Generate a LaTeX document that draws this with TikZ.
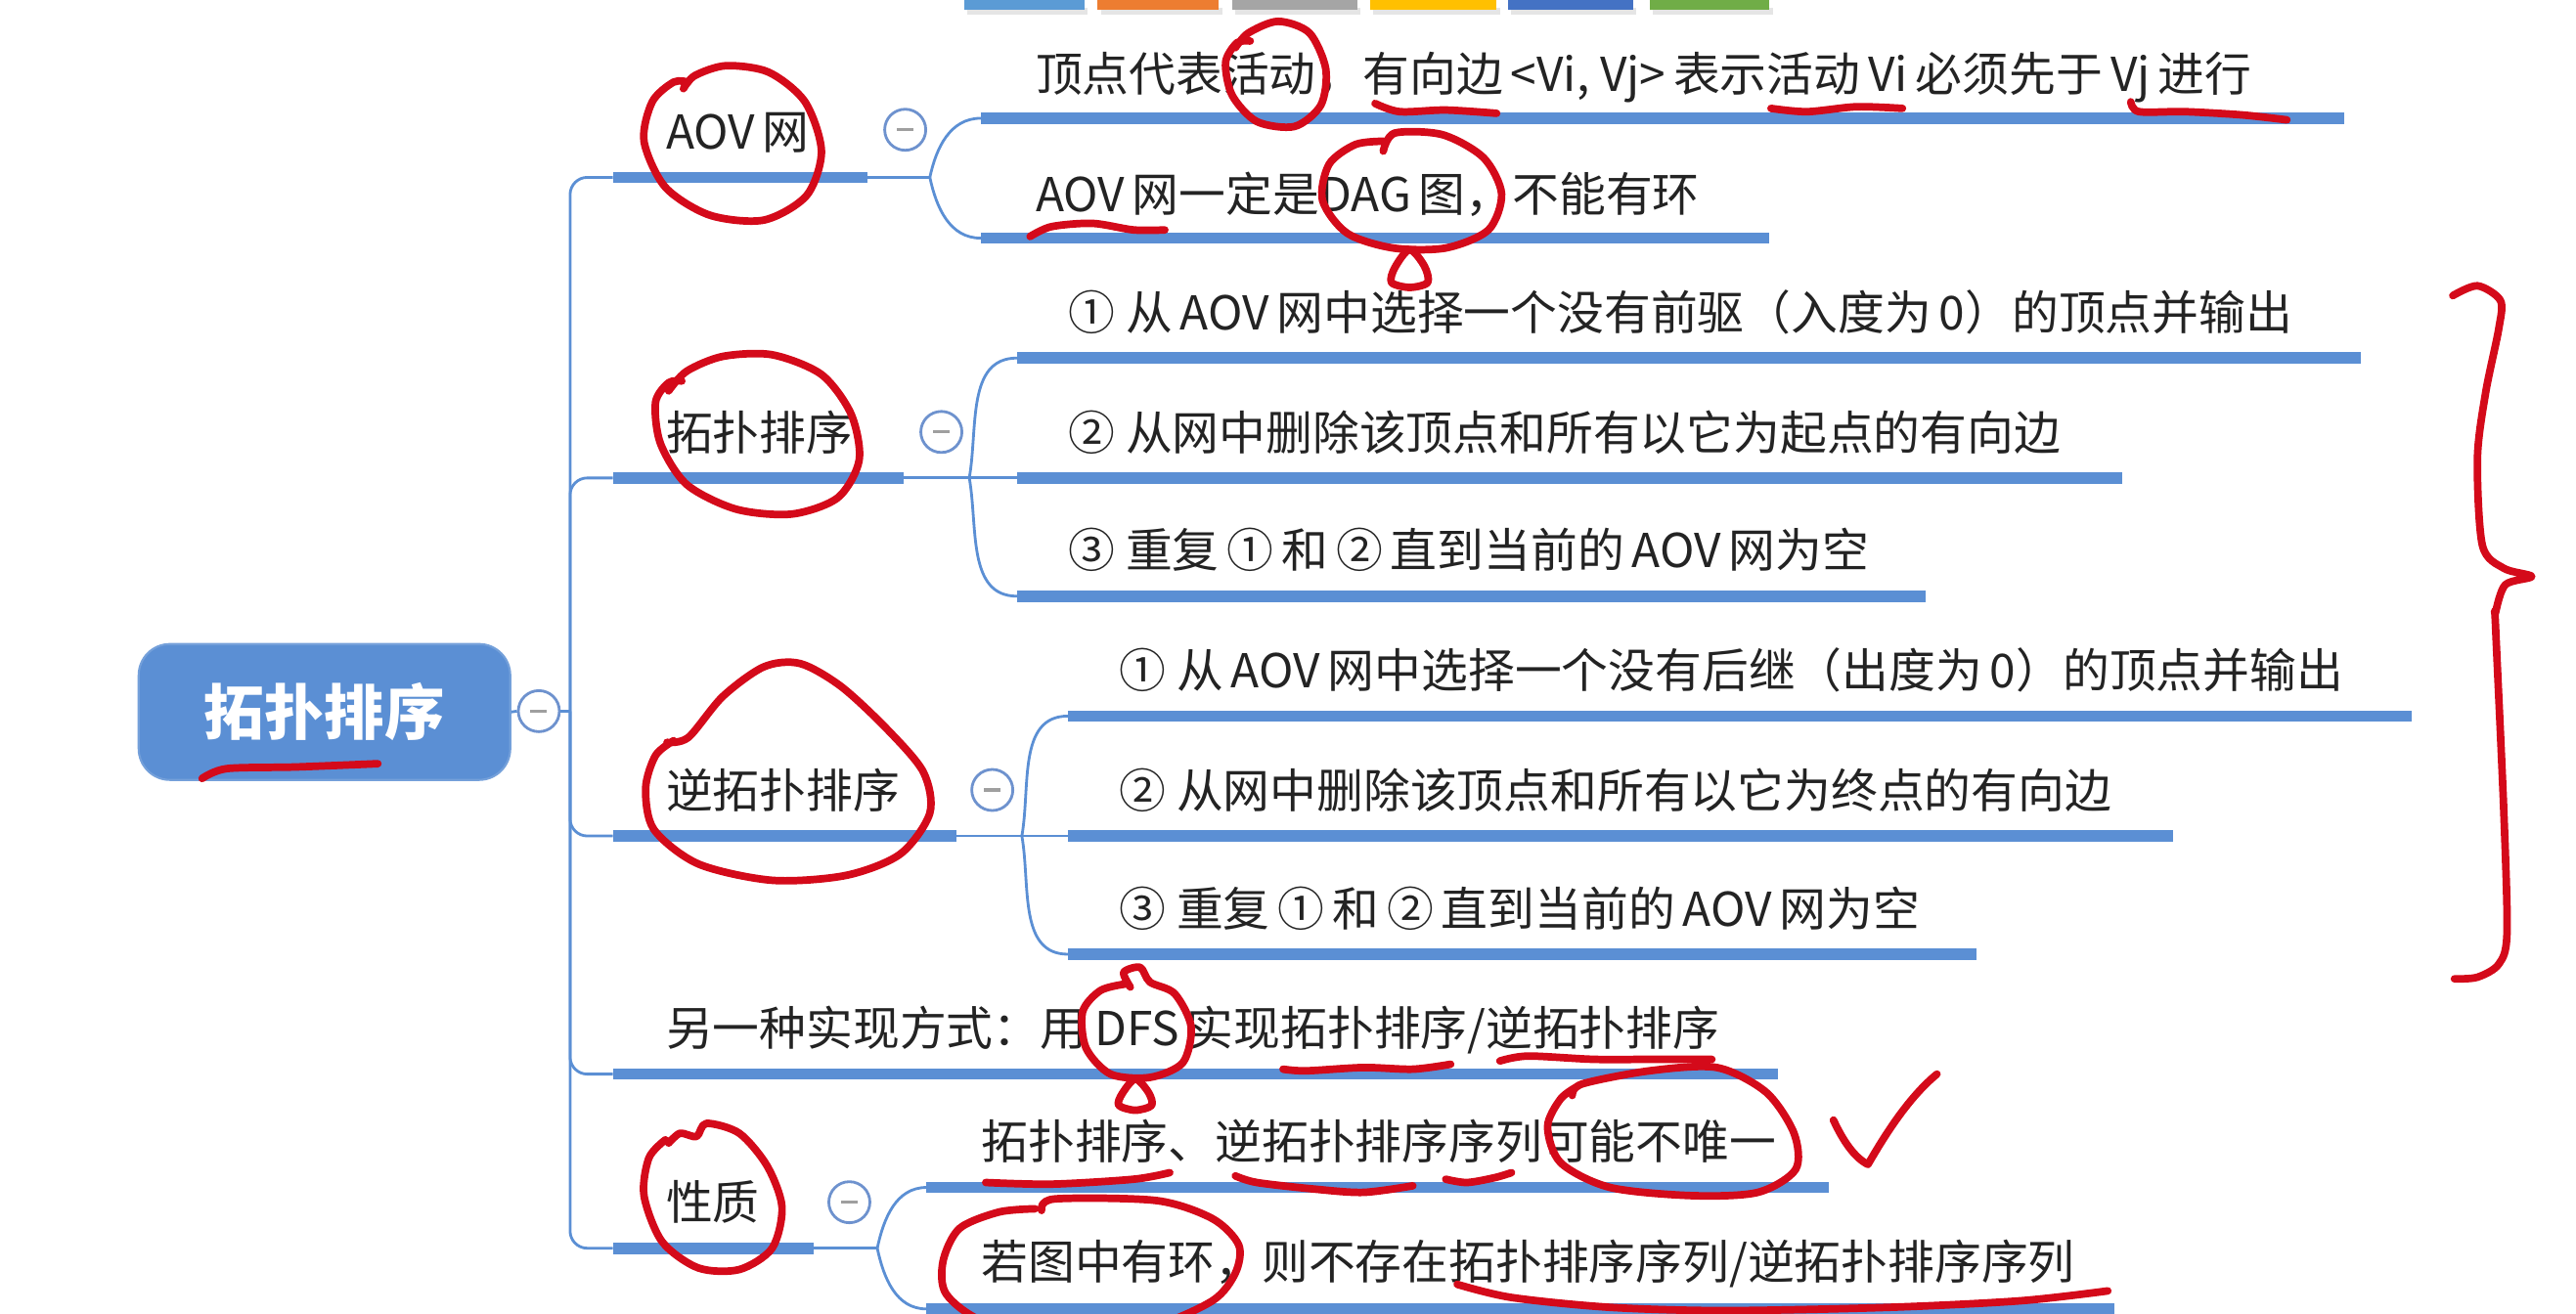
\documentclass[tikz,border=0pt]{standalone}
\usepackage{fontspec}
\setmainfont{Noto Sans CJK SC}
\usetikzlibrary{calc}
\definecolor{mmblue}{RGB}{91,143,212}
\definecolor{foldblue}{RGB}{110,146,206}
\definecolor{ink}{RGB}{212,10,26}
\definecolor{txt}{RGB}{35,35,35}
\definecolor{tabA}{RGB}{91,155,213}
\definecolor{tabB}{RGB}{237,125,49}
\definecolor{tabC}{RGB}{165,165,165}
\definecolor{tabD}{RGB}{255,192,0}
\definecolor{tabE}{RGB}{68,114,196}
\definecolor{tabF}{RGB}{112,173,71}
\tikzset{
  topic/.style={anchor=west, inner sep=0pt, text height=0.421cm, text depth=0.057cm,
    font=\fontsize{13.6}{16}\selectfont, text=txt},
  rootbox/.style={fill=mmblue, draw=mmblue!85!white, line width=0.6pt, rounded corners=0.32cm,
    minimum width=3.80cm, minimum height=1.39cm, inner sep=0pt,
    font=\fontsize{17.5}{20}\selectfont\bfseries, text=white},
  bar/.style={draw=mmblue, line width=3.3pt},
  link/.style={draw=mmblue, line width=0.8pt},
  fold/.style={circle, draw=foldblue, line width=0.8pt, fill=white, minimum size=0.42cm, inner sep=0pt,
    path picture={\draw[gray!75, line width=0.9pt]
      ([xshift=-0.085cm]path picture bounding box.center) --
      ([xshift=0.085cm]path picture bounding box.center);}},
  ink/.style={draw=ink, line width=2.2pt, line cap=round, line join=round},
}
\begin{document}
\begin{tikzpicture}[x=0.0168cm, y=-0.0168cm]
\useasboundingbox (0,0) rectangle (1568,800);

% ---------- toolbar tabs at the top ----------
\foreach \a/\b in {587/660, 668/742, 750/826, 834/911, 918/994, 1004/1077}
  \fill[black!10] (\a+2,5) rectangle (\b+2,9);
\fill[tabA] (587,-3) rectangle (660,6);
\fill[tabB] (668,-3) rectangle (742,6);
\fill[tabC] (750,-3) rectangle (826,6);
\fill[tabD] (834,-3) rectangle (911,6);
\fill[tabE] (918,-3) rectangle (994,6);
\fill[tabF] (1004,-3) rectangle (1077,6);

% ---------- root ----------
\node[rootbox] (root) at (197.5,433.5) {拓扑排序};
\node[fold] (rf) at (328,433) {};
\coordinate (trunk) at (347,433);
\draw[link] (root.east) -- (rf.west);
\draw[link] (rf.east) -- (trunk);

% ---------- level 1 anchors ----------
\coordinate (b1s) at (373,108); \coordinate (b1e) at (528,108);
\coordinate (b2s) at (373,291); \coordinate (b2e) at (550,291);
\coordinate (b3s) at (373,509); \coordinate (b3e) at (582,509);
\coordinate (b4s) at (373,654); \coordinate (b4e) at (1082,654);
\coordinate (b5s) at (373,760); \coordinate (b5e) at (495,760);

\foreach \k in {1,...,5}
  \draw[link, rounded corners=5pt] (trunk) |- (b\k s);
\foreach \k in {1,...,5}
  \draw[bar] (b\k s) -- (b\k e);

\node[topic] (t1) at (405,80) {AOV\,网};
\node[topic] (t2) at (405,263) {拓扑排序};
\node[topic] (t3) at (405,481) {逆拓扑排序};
\node[topic] (t4) at (405,626) {另一种实现方式：用\,DFS\,实现拓扑排序/逆拓扑排序};
\node[topic] (t5) at (405,732) {性质};

\node[fold] (f1) at (551,79) {};
\node[fold] (f2) at (573,263) {};
\node[fold] (f3) at (604,481) {};
\node[fold] (f5) at (517,732) {};

% split points
\coordinate (s1) at (566,108);
\coordinate (s2) at (590,291);
\coordinate (s3) at (622,509);
\coordinate (s5) at (534,760);
\draw[link] (b1e) -- (s1);
\draw[link] (b2e) -- (s2);
\draw[link] (b3e) -- (s3);
\draw[link] (b5e) -- (s5);

% ---------- children of AOV网 ----------
\coordinate (c11s) at (597,72);  \coordinate (c11e) at (1427,72);
\coordinate (c12s) at (597,145); \coordinate (c12e) at (1077,145);
\draw[link] (s1) to[out=78,in=180] (c11s);
\draw[link] (s1) to[out=-78,in=180] (c12s);
\draw[bar] (c11s) -- (c11e);
\draw[bar] (c12s) -- (c12e);
\node[topic] (x11) at (630,45) {顶点代表活动，有向边\,<Vi, Vj>\,表示活动\,Vi\,必须先于\,Vj\,进行};
\node[topic] (x12) at (630,118) {AOV\,网一定是DAG\,图，不能有环};

% ---------- children of 拓扑排序 ----------
\coordinate (c21s) at (619,218); \coordinate (c21e) at (1437,218);
\coordinate (c22s) at (619,291); \coordinate (c22e) at (1292,291);
\coordinate (c23s) at (619,363); \coordinate (c23e) at (1172,363);
\draw[link] (s2) to[out=80,in=180] (c21s);
\draw[link] (s2) -- (c22s);
\draw[link] (s2) to[out=-80,in=180] (c23s);
\draw[bar] (c21s) -- (c21e);
\draw[bar] (c22s) -- (c22e);
\draw[bar] (c23s) -- (c23e);
\node[topic] (x21) at (650,190) {① 从\,AOV\,网中选择一个没有前驱（入度为\,0）的顶点并输出};
\node[topic] (x22) at (650,263) {② 从网中删除该顶点和所有以它为起点的有向边};
\node[topic] (x23) at (650,335) {③ 重复\,①\,和\,②\,直到当前的\,AOV\,网为空};

% ---------- children of 逆拓扑排序 ----------
\coordinate (c31s) at (650,436); \coordinate (c31e) at (1468,436);
\coordinate (c32s) at (650,509); \coordinate (c32e) at (1323,509);
\coordinate (c33s) at (650,581); \coordinate (c33e) at (1203,581);
\draw[link] (s3) to[out=80,in=180] (c31s);
\draw[link] (s3) -- (c32s);
\draw[link] (s3) to[out=-80,in=180] (c33s);
\draw[bar] (c31s) -- (c31e);
\draw[bar] (c32s) -- (c32e);
\draw[bar] (c33s) -- (c33e);
\node[topic] (x31) at (681,408) {① 从\,AOV\,网中选择一个没有后继（出度为\,0）的顶点并输出};
\node[topic] (x32) at (681,481) {② 从网中删除该顶点和所有以它为终点的有向边};
\node[topic] (x33) at (681,553) {③ 重复\,①\,和\,②\,直到当前的\,AOV\,网为空};

% ---------- children of 性质 ----------
\coordinate (c51s) at (564,723); \coordinate (c51e) at (1113,723);
\coordinate (c52s) at (564,797); \coordinate (c52e) at (1287,797);
\draw[link] (s5) to[out=78,in=180] (c51s);
\draw[link] (s5) to[out=-78,in=180] (c52s);
\draw[bar] (c51s) -- (c51e);
\draw[bar] (c52s) -- (c52e);
\node[topic] (x51) at (597,695) {拓扑排序、逆拓扑排序序列可能不唯一};
\node[topic] (x52) at (597,768) {若图中有环，则不存在拓扑排序序列/逆拓扑排序序列};

% ---------- red handwritten annotations ----------
% root underline
\draw[ink] plot[smooth] coordinates {(123,474) (138,468) (180,467) (230,465)};
% AOV网 circle
\draw[ink] plot[smooth] coordinates {(416,54) (423,46) (442,40) (468,44) (490,62) (500,92) (491,119) (465,134) (432,131) (405,114) (392,86) (397,62) (410,50) (419,50)};
% 活动 circle
\draw[ink] plot[smooth] coordinates {(752,29) (760,20) (778,13) (797,20) (807,42) (804,64) (788,77) (765,74) (750,58) (746,38) (753,26) (761,25)};
% underlines on line 1
\draw[ink] plot[smooth] coordinates {(837,63) (852,68) (880,67) (911,69)};
\draw[ink] plot[smooth] coordinates {(1078,66) (1100,68) (1130,65) (1158,66)};
\draw[ink] plot[smooth] coordinates {(1297,62) (1302,68) (1330,68) (1365,70) (1392,73)};
% AOV underline (line 2)
\draw[ink] plot[smooth] coordinates {(627,144) (640,138) (665,136) (690,140) (709,140)};
% DAG circle + drop
\draw[ink] plot[smooth] coordinates {(842,92) (849,81) (878,82) (903,96) (914,118) (906,140) (880,151) (848,151) (820,142) (805,122) (809,100) (825,88) (842,86)};
\draw[ink] plot[smooth cycle] coordinates {(858,152) (849,163) (847,172) (858,175) (869,172) (867,162)};
% 拓扑排序 circle
\draw[ink] plot[smooth] coordinates {(407,238) (418,226) (440,217) (470,216) (500,228) (518,252) (523,280) (510,303) (482,313) (448,310) (418,295) (402,270) (399,245) (407,233) (415,232)};
% 逆拓扑排序 circle
\draw[ink] plot[smooth] coordinates {(406,452) (419,449) (440,424) (465,406) (487,404) (512,418) (540,444) (562,470) (566,495) (548,520) (515,533) (470,536) (425,526) (398,505) (393,480) (399,460) (410,451)};
% big brace on the right
\draw[ink] plot[smooth] coordinates {(1493,180) (1508,174) (1522,183) (1521,200) (1513,239) (1508,279) (1511,332) (1524,346) (1541,351) (1525,356) (1519,373) (1519,381) (1524,493) (1526,568) (1521,587) (1508,595) (1494,596)};
% DFS circle + drop
\draw[ink] plot[smooth] coordinates {(688,601) (684,592) (694,589) (700,598) (715,605) (725,625) (720,647) (700,656) (676,654) (661,638) (659,616) (670,603) (686,599)};
\draw[ink] plot[smooth cycle] coordinates {(691,657) (683,666) (681,673) (691,676) (701,673) (699,665)};
% DFS line underlines
\draw[ink] plot[smooth] coordinates {(781,651) (795,652) (830,650) (860,651) (883,648)};
\draw[ink] plot[smooth] coordinates {(913,646) (930,643) (970,645) (1005,645) (1042,645)};
% 可能不唯一 circle
\draw[ink] plot[smooth] coordinates {(957,667) (963,660) (1004,652) (1045,650) (1075,665) (1092,690) (1093,712) (1070,726) (1030,728) (980,723) (950,708) (942,686) (950,669) (961,661)};
% check mark
\draw[ink] (1116,682) .. controls (1122,695) and (1129,705) .. (1137,709)
                      .. controls (1148,690) and (1162,668) .. (1179,654);
% 性质 circle
\draw[ink] plot[smooth] coordinates {(407,696) (414,690) (424,692) (430,684) (450,690) (467,710) (476,735) (470,760) (450,773) (425,772) (403,756) (392,728) (395,705) (405,694)};
% 性质 child 1 underlines
\draw[ink] plot[smooth] coordinates {(600,720) (640,721) (690,718) (712,714)};
\draw[ink] plot[smooth] coordinates {(752,716) (765,720) (800,724) (830,726) (860,722)};
\draw[ink] plot[smooth] coordinates {(880,718) (893,720) (910,717) (920,714)};
% 若图中有环 circle
\draw[ink] plot[smooth] coordinates {(634,737) (642,730) (704,731) (738,742) (754,758) (752,775) (738,792) (700,808) (650,812) (600,805) (576,788) (574,768) (584,748) (608,738) (630,736)};
% 性质 child 2 underline
\draw[ink] plot[smooth] coordinates {(887,782) (920,790) (980,796) (1050,798) (1150,796) (1230,792) (1283,786)};
\end{tikzpicture}
\end{document}
